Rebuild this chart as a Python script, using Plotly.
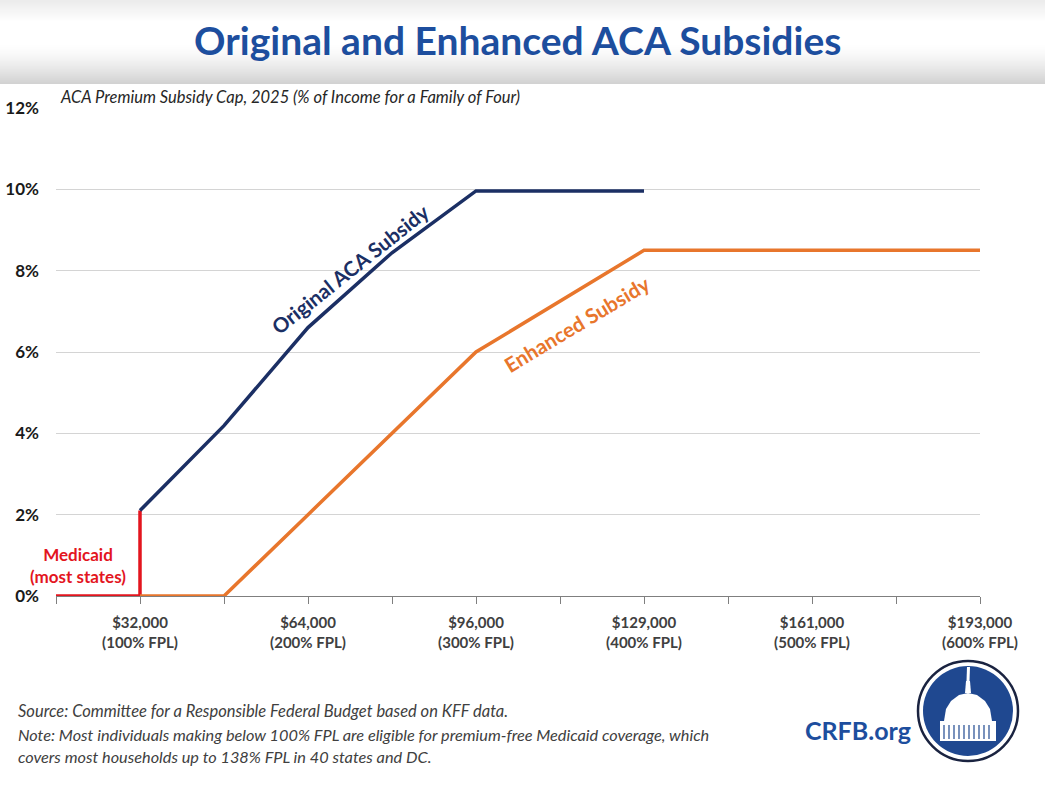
import plotly.graph_objects as go

# ACA premium cap, % of income, by income as % of FPL (family of four, 2025)
original_fpl = [100, 150, 200, 250, 300, 400]
original_cap = [2.10, 4.19, 6.60, 8.44, 9.96, 9.96]

enhanced_fpl = [100, 150, 200, 250, 300, 400, 600]
enhanced_cap = [0.0, 0.0, 2.0, 4.0, 6.0, 8.5, 8.5]

medicaid_fpl = [50, 100, 100]
medicaid_cap = [0.0, 0.0, 2.10]

tick_fpl = [100, 200, 300, 400, 500, 600]
tick_income = ["$32,000", "$64,000", "$96,000", "$129,000", "$161,000", "$193,000"]
y_ticks = [0, 2, 4, 6, 8, 10, 12]

NAVY = "#1B2F64"
ORANGE = "#E8762C"
RED = "#E3151E"
BLUE = "#1D4E9E"

W, H = 1045, 804
L, R, T, B = 56, 65, 108, 208


def px_x(px):
    return (px - L) / (W - L - R)


def px_y(py):
    return (H - B - py) / (H - T - B)


fig = go.Figure()

fig.add_trace(go.Scatter(
    x=medicaid_fpl, y=medicaid_cap, mode="lines",
    line=dict(color=RED, width=3.5), hoverinfo="skip", cliponaxis=False
))
fig.add_trace(go.Scatter(
    x=enhanced_fpl, y=enhanced_cap, mode="lines",
    line=dict(color=ORANGE, width=3.5), name="Enhanced Subsidy", cliponaxis=False
))
fig.add_trace(go.Scatter(
    x=original_fpl, y=original_cap, mode="lines",
    line=dict(color=NAVY, width=3.5), name="Original ACA Subsidy", cliponaxis=False
))

shapes = []
# title band gradient
for i in range(22):
    y0, y1 = i, i + 1
    g = int(236 + (255 - 236) * i / 21)
    shapes.append(dict(type="rect", xref="paper", yref="paper", layer="below",
                       x0=px_x(0), x1=px_x(W), y0=px_y(y1), y1=px_y(y0),
                       fillcolor=f"rgb({g},{g},{g})", line=dict(width=0)))
for i in range(40):
    y0, y1 = 44 + i, 45 + i
    g = int(255 - (255 - 210) * (i / 39) ** 1.4)
    shapes.append(dict(type="rect", xref="paper", yref="paper", layer="below",
                       x0=px_x(0), x1=px_x(W), y0=px_y(y1), y1=px_y(y0),
                       fillcolor=f"rgb({g},{g},{g})", line=dict(width=0)))

# logo
cx, cy = 968, 711
shapes.append(dict(type="circle", xref="paper", yref="paper",
                   x0=px_x(cx - 50), x1=px_x(cx + 50), y0=px_y(cy + 50), y1=px_y(cy - 50),
                   fillcolor="white", line=dict(color="#1A2340", width=2.5)))
shapes.append(dict(type="circle", xref="paper", yref="paper",
                   x0=px_x(cx - 45), x1=px_x(cx + 45), y0=px_y(cy + 45), y1=px_y(cy - 45),
                   fillcolor="#1F4890", line=dict(width=0)))


def pth(points):
    return "M " + " L ".join(f"{px_x(a)},{px_y(b)}" for a, b in points) + " Z"


# capitol silhouette
dome = [(cx - 24, cy + 10), (cx - 22, cy - 2), (cx - 17, cy - 10), (cx - 9, cy - 16),
        (cx, cy - 18), (cx + 9, cy - 16), (cx + 17, cy - 10), (cx + 22, cy - 2),
        (cx + 24, cy + 10)]
shapes.append(dict(type="path", xref="paper", yref="paper", path=pth(dome),
                   fillcolor="white", line=dict(width=0)))
shapes.append(dict(type="path", xref="paper", yref="paper",
                   path=pth([(cx - 28, cy + 10), (cx + 28, cy + 10), (cx + 28, cy + 30), (cx - 28, cy + 30)]),
                   fillcolor="white", line=dict(width=0)))
shapes.append(dict(type="path", xref="paper", yref="paper",
                   path=pth([(cx - 3, cy - 18), (cx + 3, cy - 18), (cx + 2, cy - 30), (cx - 2, cy - 30)]),
                   fillcolor="white", line=dict(width=0)))
shapes.append(dict(type="path", xref="paper", yref="paper",
                   path=pth([(cx - 1.5, cy - 30), (cx + 1.5, cy - 30), (cx + 2, cy - 44), (cx - 1, cy - 44)]),
                   fillcolor="white", line=dict(width=0)))
for k in range(-24, 26, 5):
    shapes.append(dict(type="line", xref="paper", yref="paper",
                       x0=px_x(cx + k), x1=px_x(cx + k), y0=px_y(cy + 14), y1=px_y(cy + 28),
                       line=dict(color="#1F4890", width=1.2)))


def note(text, x, y, size, color, anchor="left", **kw):
    return dict(text=text, xref="paper", yref="paper", x=px_x(x), y=px_y(y),
                xanchor=anchor, yanchor="middle", showarrow=False,
                font=dict(family="Lato", size=size, color=color, **kw))


annotations = [
    note("Original and Enhanced ACA Subsidies", 517, 40, 39, BLUE, anchor="center", weight="bold"),
    note("<i>ACA Premium Subsidy Cap, 2025 (% of Income for a Family of Four)</i>", 58, 97, 16.5, "#262626"),
    dict(text="Original ACA Subsidy", x=225, y=8.05, textangle=-38.5, showarrow=False,
         xanchor="center", yanchor="middle",
         font=dict(family="Lato", size=20.5, color=NAVY, weight="bold")),
    dict(text="Enhanced Subsidy", x=360, y=6.7, textangle=-31, showarrow=False,
         xanchor="center", yanchor="middle",
         font=dict(family="Lato", size=20.5, color=ORANGE, weight="bold")),
    dict(text="Medicaid<br>(most states)", x=63, y=0.76, showarrow=False,
         xanchor="center", yanchor="middle",
         font=dict(family="Lato", size=17, color=RED, weight="bold")),
    note("<i>Source: Committee for a Responsible Federal Budget based on KFF data.</i>", 16, 711, 16.5, "#404040"),
    note("<i>Note: Most individuals making below 100% FPL are eligible for premium-free Medicaid coverage, which</i>",
         16, 734, 16.3, "#404040"),
    note("<i>covers most households up to 138% FPL in 40 states and DC.</i>", 16, 756, 16.3, "#404040"),
    note("CRFB.org", 858, 730, 25, BLUE, anchor="center", weight="bold"),
]

fig.update_layout(
    width=W, height=H, autosize=False,
    margin=dict(l=L, r=R, t=T, b=B, pad=0),
    paper_bgcolor="white", plot_bgcolor="white",
    showlegend=False,
    shapes=shapes, annotations=annotations,
    xaxis=dict(
        range=[50, 600], tickvals=tick_fpl, automargin=False,
        ticktext=[f"{inc}<br>({p}% FPL)" for inc, p in zip(tick_income, tick_fpl)],
        showgrid=False, zeroline=False, showline=True, linecolor="#7f7f7f", linewidth=1.3,
        ticks="outside", ticklen=7, tickcolor="#7f7f7f", tickwidth=1.3,
        minor=dict(tick0=50, dtick=50, ticks="outside", ticklen=7, tickcolor="#7f7f7f",
                   tickwidth=1.3, showgrid=False),
        ticklabelstandoff=6,
        tickfont=dict(family="Lato", size=15, color="#404040", weight="bold"),
    ),
    yaxis=dict(
        range=[0, 12], tickvals=y_ticks, ticktext=[f"{v}%" for v in y_ticks], automargin=False,
        showgrid=True, gridcolor="#d4d4d4", gridwidth=1.2, zeroline=False, showline=False,
        ticklabelstandoff=16,
        tickfont=dict(family="Lato", size=17, color="#1a1a1a", weight="bold"),
    ),
)

fig.write_html("out.html", config={"displayModeBar": False},
               post_script="document.body.style.margin='0';")
